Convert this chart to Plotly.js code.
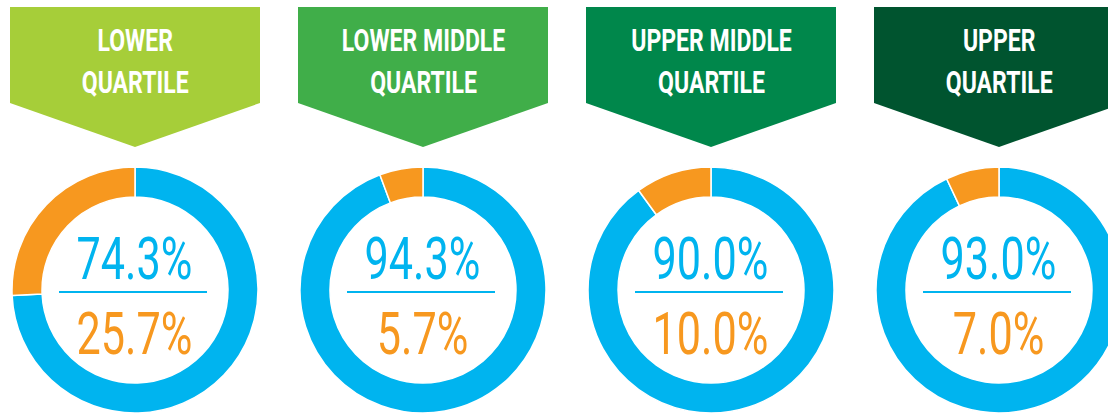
<!DOCTYPE html>
<html>
<head>
<meta charset="utf-8">
<script src="https://cdn.plot.ly/plotly-3.0.1.min.js"></script>
<style>
html,body{margin:0;padding:0;overflow:hidden;background:#fff;width:1108px;height:414px;}
#chart{width:1140px;height:414px;}
</style>
</head>
<body>
<div id="chart"></div>
<script>
// ---- data ----
const categories = ["LOWER<br>QUARTILE", "LOWER MIDDLE<br>QUARTILE", "UPPER MIDDLE<br>QUARTILE", "UPPER<br>QUARTILE"];
const seriesA = [74.3, 94.3, 90.0, 93.0];   // blue share
const seriesB = [25.7, 5.7, 10.0, 7.0];     // orange share
const bannerColors = ["#a6ce39", "#40ae49", "#00874b", "#00542f"];

// ---- layout geometry ----
const W = 1140, H = 414;
const centers = [135, 423, 711, 999];
const cy = 290, R = 123;
const blue = "#00b4ef", orange = "#f7981f";

const traces = [];
const shapes = [];
const annotations = [];

categories.forEach((cat, i) => {
  const cx = centers[i];
  traces.push({
    type: "pie",
    values: [seriesA[i], seriesB[i]],
    labels: ["A", "B"],
    marker: {colors: [blue, orange], line: {color: "#ffffff", width: 1.5}},
    hole: 0.756,
    sort: false,
    direction: "clockwise",
    rotation: 0,
    textinfo: "none",
    hoverinfo: "none",
    showlegend: false,
    domain: {x: [(cx - R) / W, (cx + R) / W], y: [(H - (cy + R)) / H, (H - (cy - R)) / H]}
  });
  const l = cx - 125, r = cx + 125;
  shapes.push({
    type: "path", xref: "x", yref: "y", layer: "below",
    path: `M ${l} 7 L ${r} 7 L ${r} 103 L ${cx} 147 L ${l} 103 Z`,
    fillcolor: bannerColors[i], line: {width: 0}
  });
  shapes.push({
    type: "line", xref: "x", yref: "y", layer: "above",
    x0: cx - 76, x1: cx + 72, y0: 292, y1: 292,
    line: {color: blue, width: 2}
  });
  annotations.push({
    xref: "x", yref: "y", x: cx, y: 61, text: cat, showarrow: false,
    xanchor: "center", yanchor: "middle", align: "center",
    font: {family: "Roboto, 'Open Sans', sans-serif", size: 32, color: "#ffffff", weight: 700}
  });
  annotations.push({
    xref: "x", yref: "y", x: cx - 1, y: 258, text: seriesA[i].toFixed(1) + "%", showarrow: false,
    xanchor: "center", yanchor: "middle",
    font: {family: "Roboto, 'Open Sans', sans-serif", size: 60, color: blue, weight: 400}
  });
  annotations.push({
    xref: "x", yref: "y", x: cx - 1, y: 333, text: seriesB[i].toFixed(1) + "%", showarrow: false,
    xanchor: "center", yanchor: "middle",
    font: {family: "Roboto, 'Open Sans', sans-serif", size: 60, color: orange, weight: 400}
  });
});

const layout = {
  width: W, height: H,
  margin: {l: 0, r: 0, t: 0, b: 0},
  paper_bgcolor: "#ffffff", plot_bgcolor: "rgba(0,0,0,0)",
  xaxis: {range: [0, W], visible: false, fixedrange: true},
  yaxis: {range: [H, 0], visible: false, fixedrange: true},
  shapes: shapes,
  annotations: annotations,
  showlegend: false
};

Plotly.newPlot("chart", traces, layout, {staticPlot: true, displayModeBar: false}).then(() => {
  // condense the text horizontally (the original uses a condensed typeface)
  const texts = document.querySelectorAll("#chart .annotation-text");
  texts.forEach((t, k) => {
    const isBanner = (k % 3) === 0;
    const s = isBanner ? 0.72 : 0.72;
    const bb = t.getBBox();
    const c = bb.x + bb.width / 2;
    t.setAttribute("transform", `translate(${c},0) scale(${s},1) translate(${-c},0)`);
  });
});
</script>
</body>
</html>
